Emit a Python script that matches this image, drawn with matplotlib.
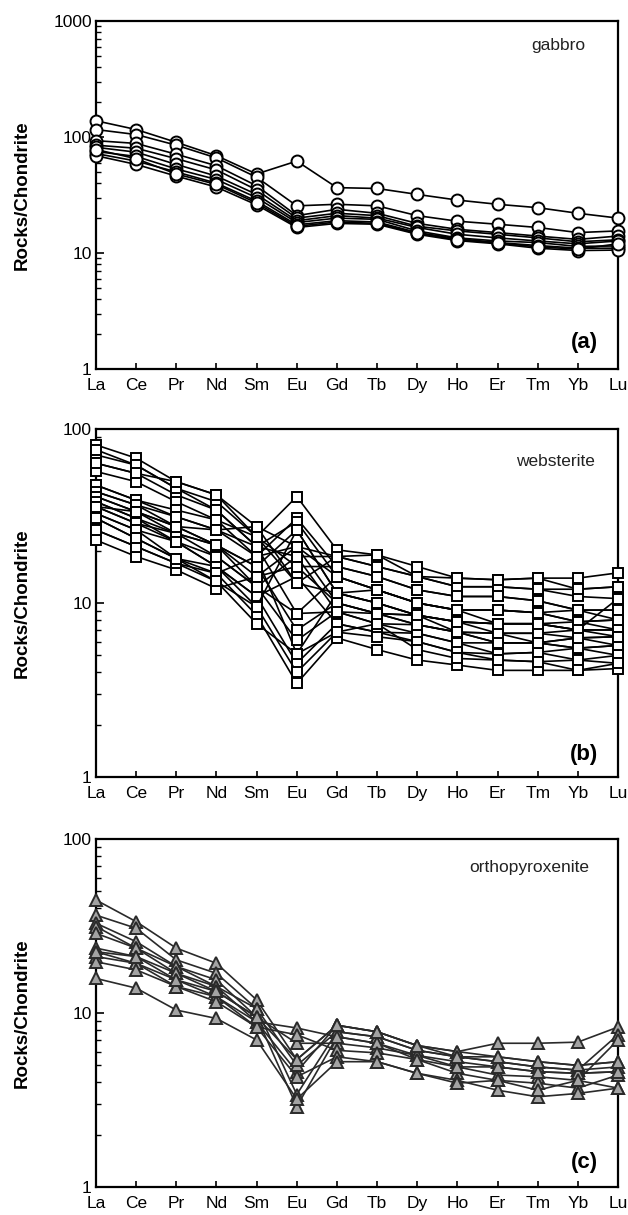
import matplotlib
matplotlib.use("Agg")
import matplotlib.pyplot as plt
from matplotlib.ticker import LogLocator, FixedLocator, NullFormatter

plt.rcParams['font.family'] = ['Liberation Sans', 'DejaVu Sans']

elements = ["La", "Ce", "Pr", "Nd", "Sm", "Eu", "Gd", "Tb", "Dy", "Ho", "Er", "Tm", "Yb", "Lu"]

# (a) gabbro
gabbro = [
    [138, 116, 90, 69, 48, 62, 36.6, 36, 32, 28.6, 26.3, 24.6, 22, 20],
    [116, 105, 85, 66, 45, 25.5, 26.3, 25.5, 21, 18.8, 17.7, 16.6, 15, 15.5],
    [93, 88, 71, 56.5, 38, 21, 23.8, 22, 18, 16, 15, 14, 13.1, 14],
    [85, 80, 65, 52, 35, 20, 22, 21, 17, 15.5, 14.5, 13.5, 12.5, 13],
    [81.5, 74, 58, 46, 32, 19, 21, 20, 16.6, 14.5, 13.5, 12.7, 12, 12.7],
    [75, 68, 53, 43, 30, 18.3, 20, 19.5, 15.5, 13.5, 12.7, 12.3, 11.4, 11.5],
    [72, 62, 50, 40, 28, 17.5, 19, 18.5, 15, 13.3, 12.3, 11.6, 11, 11],
    [69, 58, 46, 37, 26, 16.6, 18, 17.7, 14.5, 12.8, 12, 11, 10.5, 10.6],
    [78, 65, 48, 39, 27, 17, 18.5, 18, 14.8, 13, 12.2, 11.3, 10.8, 12],
]

# (b) websterite
websterite = [
    [81, 68, 49.8, 41.8, 27.5, 21.1, 18.5, 16.2, 14.2, 12.4, 12.4, 12, 12, 12.4],
    [71, 62, 45.6, 38.2, 24, 16.2, 16.2, 14.2, 11.9, 10.9, 10.9, 10.3, 9.1, 9.1],
    [63.6, 55.6, 41.8, 34.2, 21.1, 8.7, 14.2, 11.9, 10, 9.1, 9.1, 8.8, 7.8, 8],
    [57, 49.8, 38.2, 30, 18.5, 5.1, 11.4, 10, 8.5, 7.8, 7.6, 7.6, 7, 7],
    [76, 62, 45.6, 34.2, 21.1, 18.5, 18.5, 18.9, 16.2, 13.9, 13.6, 13.9, 13.9, 14.9],
    [47.6, 39, 34.2, 30, 24, 40.9, 20.2, 18.9, 14.2, 12.4, 12.4, 12, 10.9, 10.6],
    [43.6, 36.6, 31.3, 26.3, 18.5, 30.7, 16.2, 14.2, 11.9, 10.9, 10.9, 10.3, 9.1, 9.1],
    [40.9, 33.5, 27.5, 26.3, 21.1, 29.3, 14.2, 11.9, 10, 9.1, 9.1, 8.8, 9.1, 8],
    [38.2, 30.7, 25.1, 21.5, 16.2, 26.3, 11.4, 10, 8.5, 7.8, 7.6, 7.6, 7.8, 7],
    [35.8, 28.7, 25.1, 21.5, 14.2, 21.1, 10, 8.7, 7.5, 6.8, 6.7, 6.7, 7, 6.4],
    [32.7, 26.3, 22.5, 18.5, 12.4, 18.5, 8.9, 7.6, 6.7, 5.9, 5.9, 5.9, 6.3, 5.7],
    [30.7, 23.5, 18, 16.2, 10.9, 14.2, 7.6, 6.8, 6.0, 5.2, 5.1, 5.2, 5.5, 5.0],
    [47.6, 39, 31.3, 26.3, 27.5, 13, 11.4, 11.9, 10, 9.1, 7.6, 7.6, 7, 7],
    [43.6, 36.6, 27.5, 21.5, 16.2, 7, 10, 8.7, 8.5, 7.8, 6.7, 6.7, 6.3, 6.4],
    [40.9, 33.5, 25.1, 18.5, 12.4, 6.1, 8.9, 7.6, 7.5, 6.8, 5.9, 5.9, 5.5, 5.7],
    [38.2, 30.7, 22.5, 16.2, 10.9, 4.5, 7.6, 6.8, 6.7, 5.9, 5.1, 5.2, 4.7, 5.0],
    [35.8, 28.7, 22.5, 16.2, 9.5, 4.0, 6.8, 6.4, 6.0, 5.2, 4.7, 4.6, 4.7, 4.5],
    [32.7, 26.3, 18, 14.8, 8.5, 3.45, 6.3, 5.4, 4.7, 4.4, 4.1, 4.1, 4.1, 4.2],
    [26.3, 21.1, 16.9, 13.3, 7.6, 5.1, 6.8, 7.6, 5.4, 4.8, 4.7, 4.6, 4.1, 4.5],
    [23, 18.5, 15.5, 12.1, 14.2, 16.2, 10, 8.7, 8.5, 6.8, 6.7, 5.9, 5.5, 5.7],
    [26.3, 21.1, 16.9, 14.8, 18.5, 21.1, 14.2, 11.9, 10, 9.1, 9.1, 8.8, 7.8, 8],
    [30.7, 23.5, 18, 13.3, 9.5, 26.3, 11.4, 10, 8.5, 7.8, 7.6, 7.6, 7, 10.6],
    [63.6, 55.6, 49.8, 41.8, 24, 13, 18.5, 16.2, 14.2, 13.9, 13.6, 13.9, 12, 12.4],
    [35.8, 33.5, 27.5, 21.5, 12.4, 8.7, 8.9, 8.7, 7.5, 6.8, 5.9, 5.9, 6.3, 6.4],
]

# (c) orthopyroxenite
orthopyroxenite = [
    [44.6, 33.5, 23.6, 19.3, 11.9, 5.4, 8.5, 7.8, 6.5, 6.0, 5.6, 5.25, 5.0, 5.25],
    [36.5, 30.7, 20.2, 16.9, 10.6, 3.4, 7.8, 7.3, 6.1, 5.6, 5.25, 4.9, 4.7, 4.9],
    [32.8, 25.7, 18.5, 15.5, 9.5, 2.9, 7.3, 6.7, 5.7, 5.25, 4.9, 4.6, 4.5, 4.6],
    [31.4, 23.6, 18.5, 14.2, 8.9, 4.6, 8.5, 7.8, 6.5, 6.0, 6.7, 6.7, 6.8, 8.3],
    [28.7, 23.6, 16.9, 14.2, 10.6, 5.0, 7.8, 7.3, 6.1, 5.6, 5.25, 4.9, 4.7, 7.5],
    [23.6, 21.1, 16.9, 13.3, 9.5, 6.7, 6.7, 6.3, 5.7, 4.9, 4.4, 4.3, 4.1, 7.0],
    [22.5, 19.3, 15.5, 12.4, 8.9, 8.2, 7.3, 6.7, 5.4, 4.5, 4.1, 3.95, 3.7, 4.4],
    [21.1, 19.3, 14.2, 12.4, 8.3, 7.5, 6.1, 5.9, 5.4, 4.9, 4.9, 4.6, 4.5, 4.6],
    [19.7, 17.7, 14.2, 11.6, 8.3, 4.3, 5.6, 5.25, 4.5, 4.1, 3.6, 3.3, 3.45, 3.7],
    [15.8, 13.9, 10.4, 9.3, 7.0, 3.2, 5.25, 5.25, 4.5, 3.95, 4.1, 3.6, 4.1, 3.7],
    [22.5, 21.1, 15.5, 13.3, 9.5, 5.4, 8.5, 7.8, 6.5, 5.6, 5.6, 5.25, 5.0, 5.25],
]

panels = [
    dict(data=gabbro, name="gabbro", tag="(a)", ylim=(1, 1000),
         marker="o", ms=8.6, face="white", edge="black", line="black",
         yticks=[1, 10, 100, 1000], namepos=(0.885, 0.93), tagpos=(0.935, 0.075)),
    dict(data=websterite, name="websterite", tag="(b)", ylim=(1, 100),
         marker="s", ms=7.4, face="white", edge="black", line="black",
         yticks=[1, 10, 100], namepos=(0.88, 0.908), tagpos=(0.935, 0.065)),
    dict(data=orthopyroxenite, name="orthopyroxenite", tag="(c)", ylim=(1, 100),
         marker="^", ms=8.4, face="#a3a3a3", edge="#2a2a2a", line="#2a2a2a",
         yticks=[1, 10, 100], namepos=(0.83, 0.917), tagpos=(0.935, 0.07)),
]

fig = plt.figure(figsize=(6.28, 12.15), dpi=100)
bottoms = [1 - 369 / 1215, 1 - 777 / 1215, 1 - 1187 / 1215]
height = 348 / 1215
left = 96 / 628
width = 522 / 628

x = list(range(len(elements)))
for p, b in zip(panels, bottoms):
    ax = fig.add_axes([left, b, width, height])
    ax.set_yscale("log")
    for s in p["data"]:
        ax.plot(x, s, color=p["line"], lw=1.2, marker=p["marker"], ms=p["ms"],
                mfc=p["face"], mec=p["edge"], mew=1.4, clip_on=False, zorder=3)
    ax.set_xlim(0, 13)
    ax.set_ylim(*p["ylim"])
    ax.set_xticks(x)
    ax.set_xticklabels(elements, fontsize=12.5)
    ax.yaxis.set_major_locator(FixedLocator(p["yticks"]))
    ax.set_yticklabels([str(v) for v in p["yticks"]], fontsize=12.5)
    ax.yaxis.set_minor_locator(LogLocator(base=10, subs=range(2, 10)))
    ax.yaxis.set_minor_formatter(NullFormatter())
    ax.tick_params(axis="both", which="major", direction="in", length=6, width=1.2,
                   top=False, right=False, pad=3)
    ax.tick_params(axis="y", which="minor", direction="in", length=3.5, width=1.0,
                   right=False)
    ax.tick_params(axis="x", which="major", length=4, pad=6.5)
    for sp in ax.spines.values():
        sp.set_linewidth(1.6)
    ax.set_ylabel("Rocks/Chondrite", fontsize=13.5, fontweight="bold")
    ax.yaxis.set_label_coords(-0.125, 0.5)
    ax.text(p["namepos"][0], p["namepos"][1], p["name"], transform=ax.transAxes,
            ha="center", va="center", fontsize=12.5, color="#222222")
    ax.text(p["tagpos"][0], p["tagpos"][1], p["tag"], transform=ax.transAxes,
            ha="center", va="center", fontsize=16, fontweight="bold")

fig.savefig("out.png", dpi=100)
